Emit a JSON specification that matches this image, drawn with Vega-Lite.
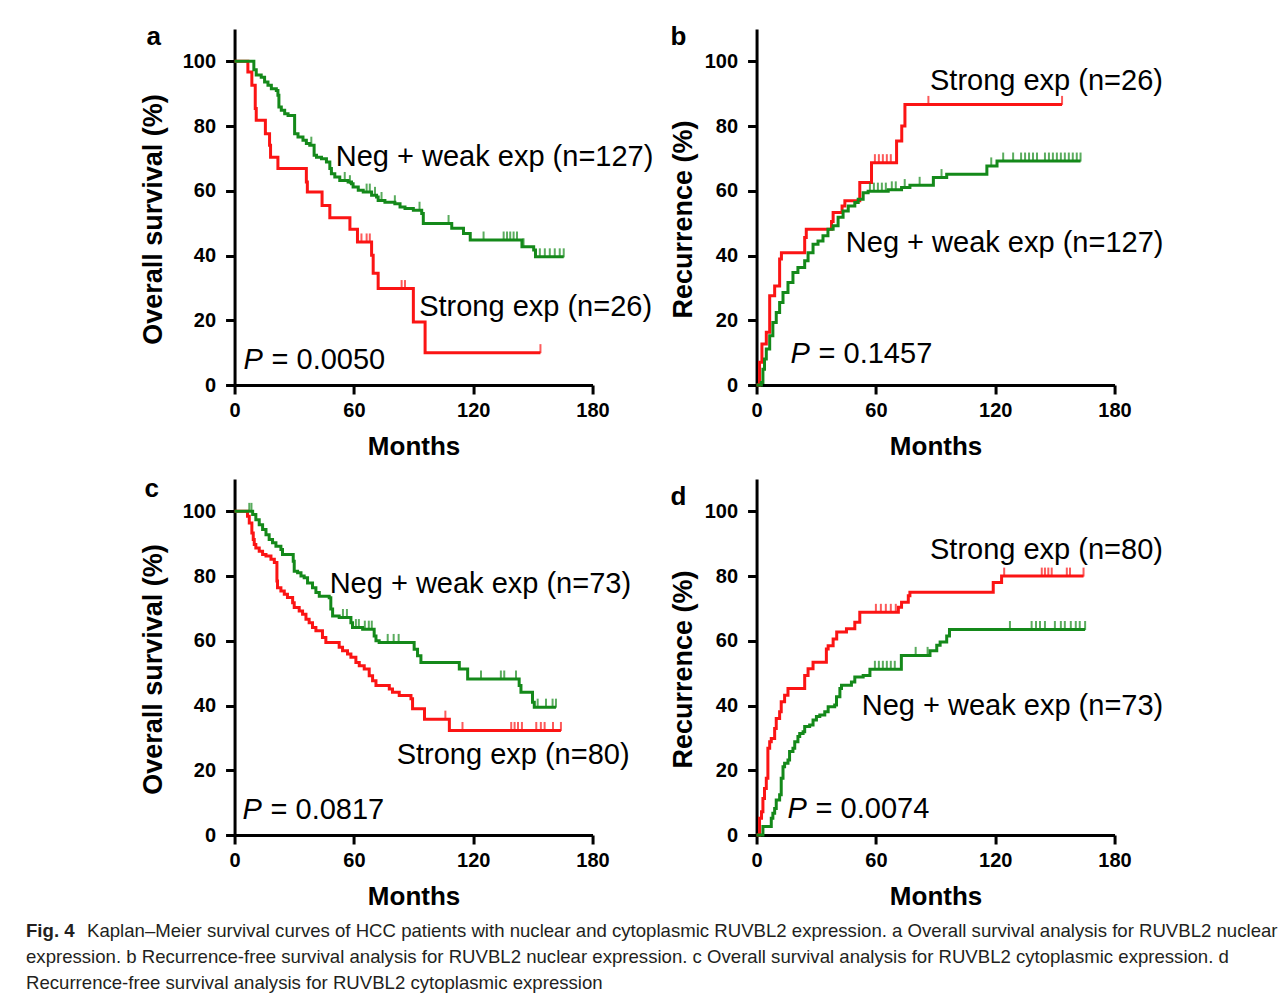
{
  "$schema": "https://vega.github.io/schema/vega-lite/v6.json",
  "padding": {"left": 26, "top": 24, "right": 0, "bottom": 0},
  "center": true,
  "spacing": 9,
  "datasets": {
    "a_curve": [
      {"group":"Strong exp","month":0,"pct":100},{"group":"Strong exp","month":6.7,"pct":96.7},{"group":"Strong exp","month":8.7,"pct":92.6},{"group":"Strong exp","month":10.4,"pct":85.4},{"group":"Strong exp","month":10.9,"pct":81.8},{"group":"Strong exp","month":15.5,"pct":77.6},{"group":"Strong exp","month":17.6,"pct":74.1},{"group":"Strong exp","month":18.1,"pct":70.4},{"group":"Strong exp","month":21.8,"pct":66.9},{"group":"Strong exp","month":36.1,"pct":62.7},{"group":"Strong exp","month":36.6,"pct":59.6},{"group":"Strong exp","month":44.0,"pct":55.5},{"group":"Strong exp","month":47.9,"pct":51.7},{"group":"Strong exp","month":58.0,"pct":48.1},{"group":"Strong exp","month":61.8,"pct":44.2},{"group":"Strong exp","month":68.9,"pct":40.1},{"group":"Strong exp","month":69.7,"pct":34.5},{"group":"Strong exp","month":72.2,"pct":29.8},{"group":"Strong exp","month":89.9,"pct":19.5},{"group":"Strong exp","month":95.8,"pct":10.0},{"group":"Strong exp","month":153.8,"pct":10.0},
      {"group":"Neg + weak exp","month":0,"pct":100},{"group":"Neg + weak exp","month":9.7,"pct":97.4},{"group":"Neg + weak exp","month":10.9,"pct":95.8},{"group":"Neg + weak exp","month":13.4,"pct":95.1},{"group":"Neg + weak exp","month":15.1,"pct":93.6},{"group":"Neg + weak exp","month":16.8,"pct":92.6},{"group":"Neg + weak exp","month":18.5,"pct":91.5},{"group":"Neg + weak exp","month":21.0,"pct":91.0},{"group":"Neg + weak exp","month":21.8,"pct":89.5},{"group":"Neg + weak exp","month":22.3,"pct":85.9},{"group":"Neg + weak exp","month":23.5,"pct":84.9},{"group":"Neg + weak exp","month":25.2,"pct":83.8},{"group":"Neg + weak exp","month":26.9,"pct":83.3},{"group":"Neg + weak exp","month":30.2,"pct":77.6},{"group":"Neg + weak exp","month":31.9,"pct":76.6},{"group":"Neg + weak exp","month":34.4,"pct":75.6},{"group":"Neg + weak exp","month":36.1,"pct":74.6},{"group":"Neg + weak exp","month":37.8,"pct":74.1},{"group":"Neg + weak exp","month":40.0,"pct":71.0},{"group":"Neg + weak exp","month":41.2,"pct":70.4},{"group":"Neg + weak exp","month":43.7,"pct":69.9},{"group":"Neg + weak exp","month":46.2,"pct":68.9},{"group":"Neg + weak exp","month":47.9,"pct":66.9},{"group":"Neg + weak exp","month":48.7,"pct":65.3},{"group":"Neg + weak exp","month":50.4,"pct":64.3},{"group":"Neg + weak exp","month":52.9,"pct":63.2},{"group":"Neg + weak exp","month":57.1,"pct":62.7},{"group":"Neg + weak exp","month":58.8,"pct":62.2},{"group":"Neg + weak exp","month":59.6,"pct":61.2},{"group":"Neg + weak exp","month":62.2,"pct":60.2},{"group":"Neg + weak exp","month":64.7,"pct":59.6},{"group":"Neg + weak exp","month":68.9,"pct":58.6},{"group":"Neg + weak exp","month":71.4,"pct":58.1},{"group":"Neg + weak exp","month":72.2,"pct":57.0},{"group":"Neg + weak exp","month":75.6,"pct":56.5},{"group":"Neg + weak exp","month":80.6,"pct":56.0},{"group":"Neg + weak exp","month":83.2,"pct":55.0},{"group":"Neg + weak exp","month":85.7,"pct":54.5},{"group":"Neg + weak exp","month":89.9,"pct":54.0},{"group":"Neg + weak exp","month":94.1,"pct":53.0},{"group":"Neg + weak exp","month":94.9,"pct":49.9},{"group":"Neg + weak exp","month":109.2,"pct":48.4},{"group":"Neg + weak exp","month":115.1,"pct":46.8},{"group":"Neg + weak exp","month":118.5,"pct":44.8},{"group":"Neg + weak exp","month":144.5,"pct":42.7},{"group":"Neg + weak exp","month":150.4,"pct":41.7},{"group":"Neg + weak exp","month":151.3,"pct":39.6},{"group":"Neg + weak exp","month":165.5,"pct":39.6}
    ],
    "a_cens": [
      {"group":"Strong exp","month":63.8,"pct":44.2},{"group":"Strong exp","month":66.4,"pct":44.2},{"group":"Strong exp","month":68.0,"pct":44.2},{"group":"Strong exp","month":84.0,"pct":29.8},{"group":"Strong exp","month":85.7,"pct":29.8},{"group":"Strong exp","month":153.8,"pct":10.0},
      {"group":"Neg + weak exp","month":38.6,"pct":74.1},{"group":"Neg + weak exp","month":55.4,"pct":63.2},{"group":"Neg + weak exp","month":58.0,"pct":62.2},{"group":"Neg + weak exp","month":66.4,"pct":59.6},{"group":"Neg + weak exp","month":68.0,"pct":59.6},{"group":"Neg + weak exp","month":70.6,"pct":58.6},{"group":"Neg + weak exp","month":73.9,"pct":57.0},{"group":"Neg + weak exp","month":80.6,"pct":56.0},{"group":"Neg + weak exp","month":93.0,"pct":54.0},{"group":"Neg + weak exp","month":107.6,"pct":49.9},{"group":"Neg + weak exp","month":125.2,"pct":44.8},{"group":"Neg + weak exp","month":135.3,"pct":44.8},{"group":"Neg + weak exp","month":137.0,"pct":44.8},{"group":"Neg + weak exp","month":138.6,"pct":44.8},{"group":"Neg + weak exp","month":140.3,"pct":44.8},{"group":"Neg + weak exp","month":142.0,"pct":44.8},{"group":"Neg + weak exp","month":145.3,"pct":42.7},{"group":"Neg + weak exp","month":153.5,"pct":39.6},{"group":"Neg + weak exp","month":156.0,"pct":39.6},{"group":"Neg + weak exp","month":158.5,"pct":39.6},{"group":"Neg + weak exp","month":161.0,"pct":39.6},{"group":"Neg + weak exp","month":163.5,"pct":39.6},{"group":"Neg + weak exp","month":165.5,"pct":39.6}
    ],
    "b_curve": [
      {"group":"Strong exp","month":0,"pct":0},{"group":"Strong exp","month":1.5,"pct":7.0},{"group":"Strong exp","month":2.7,"pct":12.7},{"group":"Strong exp","month":4.9,"pct":16.3},{"group":"Strong exp","month":6.6,"pct":27.6},{"group":"Strong exp","month":9.1,"pct":30.6},{"group":"Strong exp","month":11.6,"pct":38.9},{"group":"Strong exp","month":12.5,"pct":40.9},{"group":"Strong exp","month":24.2,"pct":45.6},{"group":"Strong exp","month":25.0,"pct":48.1},{"group":"Strong exp","month":37.7,"pct":50.5},{"group":"Strong exp","month":38.5,"pct":53.3},{"group":"Strong exp","month":43.0,"pct":55.3},{"group":"Strong exp","month":44.4,"pct":56.9},{"group":"Strong exp","month":51.9,"pct":62.6},{"group":"Strong exp","month":57.8,"pct":68.7},{"group":"Strong exp","month":70.4,"pct":75.4},{"group":"Strong exp","month":73.0,"pct":80.0},{"group":"Strong exp","month":74.6,"pct":86.7},{"group":"Strong exp","month":153.6,"pct":86.7},
      {"group":"Neg + weak exp","month":0,"pct":0},{"group":"Neg + weak exp","month":2.4,"pct":0.8},{"group":"Neg + weak exp","month":3.2,"pct":4.9},{"group":"Neg + weak exp","month":4.0,"pct":8.0},{"group":"Neg + weak exp","month":4.9,"pct":11.1},{"group":"Neg + weak exp","month":6.6,"pct":15.2},{"group":"Neg + weak exp","month":8.2,"pct":19.3},{"group":"Neg + weak exp","month":9.9,"pct":22.4},{"group":"Neg + weak exp","month":11.6,"pct":25.5},{"group":"Neg + weak exp","month":13.3,"pct":28.6},{"group":"Neg + weak exp","month":15.8,"pct":31.7},{"group":"Neg + weak exp","month":18.3,"pct":34.8},{"group":"Neg + weak exp","month":20.8,"pct":36.3},{"group":"Neg + weak exp","month":24.2,"pct":38.4},{"group":"Neg + weak exp","month":25.9,"pct":40.9},{"group":"Neg + weak exp","month":28.4,"pct":43.5},{"group":"Neg + weak exp","month":30.9,"pct":44.5},{"group":"Neg + weak exp","month":33.4,"pct":46.1},{"group":"Neg + weak exp","month":35.9,"pct":48.1},{"group":"Neg + weak exp","month":38.5,"pct":49.2},{"group":"Neg + weak exp","month":41.0,"pct":51.8},{"group":"Neg + weak exp","month":43.5,"pct":53.8},{"group":"Neg + weak exp","month":46.1,"pct":55.3},{"group":"Neg + weak exp","month":49.4,"pct":56.4},{"group":"Neg + weak exp","month":51.1,"pct":57.4},{"group":"Neg + weak exp","month":53.6,"pct":59.4},{"group":"Neg + weak exp","month":56.1,"pct":59.9},{"group":"Neg + weak exp","month":66.2,"pct":60.3},{"group":"Neg + weak exp","month":72.9,"pct":61.0},{"group":"Neg + weak exp","month":77.1,"pct":61.7},{"group":"Neg + weak exp","month":88.9,"pct":64.1},{"group":"Neg + weak exp","month":95.6,"pct":65.1},{"group":"Neg + weak exp","month":115.8,"pct":67.7},{"group":"Neg + weak exp","month":120.9,"pct":69.2},{"group":"Neg + weak exp","month":162.9,"pct":69.2}
    ],
    "b_cens": [
      {"group":"Strong exp","month":59.5,"pct":68.7},{"group":"Strong exp","month":61.5,"pct":68.7},{"group":"Strong exp","month":63.5,"pct":68.7},{"group":"Strong exp","month":65.5,"pct":68.7},{"group":"Strong exp","month":67.5,"pct":68.7},{"group":"Strong exp","month":86.4,"pct":86.7},{"group":"Strong exp","month":153.6,"pct":86.7},
      {"group":"Neg + weak exp","month":57,"pct":59.9},{"group":"Neg + weak exp","month":59,"pct":59.9},{"group":"Neg + weak exp","month":61,"pct":59.9},{"group":"Neg + weak exp","month":63,"pct":59.9},{"group":"Neg + weak exp","month":65,"pct":59.9},{"group":"Neg + weak exp","month":68,"pct":60.3},{"group":"Neg + weak exp","month":70,"pct":60.3},{"group":"Neg + weak exp","month":74.5,"pct":61.0},{"group":"Neg + weak exp","month":82,"pct":61.7},{"group":"Neg + weak exp","month":93,"pct":64.1},{"group":"Neg + weak exp","month":118,"pct":67.7},{"group":"Neg + weak exp","month":124,"pct":69.2},{"group":"Neg + weak exp","month":129,"pct":69.2},{"group":"Neg + weak exp","month":133,"pct":69.2},{"group":"Neg + weak exp","month":135,"pct":69.2},{"group":"Neg + weak exp","month":137,"pct":69.2},{"group":"Neg + weak exp","month":139,"pct":69.2},{"group":"Neg + weak exp","month":141,"pct":69.2},{"group":"Neg + weak exp","month":145,"pct":69.2},{"group":"Neg + weak exp","month":147,"pct":69.2},{"group":"Neg + weak exp","month":149,"pct":69.2},{"group":"Neg + weak exp","month":151,"pct":69.2},{"group":"Neg + weak exp","month":153,"pct":69.2},{"group":"Neg + weak exp","month":155,"pct":69.2},{"group":"Neg + weak exp","month":157,"pct":69.2},{"group":"Neg + weak exp","month":159,"pct":69.2},{"group":"Neg + weak exp","month":161,"pct":69.2},{"group":"Neg + weak exp","month":162.9,"pct":69.2}
    ],
    "c_curve": [
      {"group":"Strong exp","month":0,"pct":100},{"group":"Strong exp","month":6.5,"pct":98.5},{"group":"Strong exp","month":7.4,"pct":96.4},{"group":"Strong exp","month":8.7,"pct":93.3},{"group":"Strong exp","month":9.4,"pct":91.3},{"group":"Strong exp","month":9.9,"pct":89.8},{"group":"Strong exp","month":10.7,"pct":88.7},{"group":"Strong exp","month":12.4,"pct":87.7},{"group":"Strong exp","month":14.1,"pct":86.7},{"group":"Strong exp","month":15.8,"pct":86.2},{"group":"Strong exp","month":18.3,"pct":85.2},{"group":"Strong exp","month":20.0,"pct":84.2},{"group":"Strong exp","month":21.3,"pct":78.5},{"group":"Strong exp","month":21.6,"pct":76.4},{"group":"Strong exp","month":23.3,"pct":75.4},{"group":"Strong exp","month":25.0,"pct":74.4},{"group":"Strong exp","month":26.6,"pct":73.4},{"group":"Strong exp","month":29.2,"pct":71.8},{"group":"Strong exp","month":30.0,"pct":70.3},{"group":"Strong exp","month":32.5,"pct":69.2},{"group":"Strong exp","month":34.2,"pct":68.2},{"group":"Strong exp","month":35.9,"pct":66.7},{"group":"Strong exp","month":37.5,"pct":65.6},{"group":"Strong exp","month":39.2,"pct":64.1},{"group":"Strong exp","month":40.9,"pct":63.1},{"group":"Strong exp","month":44.2,"pct":61.0},{"group":"Strong exp","month":45.9,"pct":59.5},{"group":"Strong exp","month":52.6,"pct":58.0},{"group":"Strong exp","month":54.3,"pct":56.9},{"group":"Strong exp","month":56.8,"pct":55.9},{"group":"Strong exp","month":58.5,"pct":54.9},{"group":"Strong exp","month":61.0,"pct":53.3},{"group":"Strong exp","month":62.7,"pct":52.3},{"group":"Strong exp","month":65.2,"pct":51.3},{"group":"Strong exp","month":67.7,"pct":49.2},{"group":"Strong exp","month":69.4,"pct":47.7},{"group":"Strong exp","month":71.1,"pct":46.2},{"group":"Strong exp","month":77.8,"pct":45.1},{"group":"Strong exp","month":79.4,"pct":44.1},{"group":"Strong exp","month":82.8,"pct":43.1},{"group":"Strong exp","month":88.7,"pct":42.1},{"group":"Strong exp","month":89.5,"pct":39.0},{"group":"Strong exp","month":95.5,"pct":35.8},{"group":"Strong exp","month":108.0,"pct":32.3},{"group":"Strong exp","month":164.1,"pct":32.3},
      {"group":"Neg + weak exp","month":0,"pct":100},{"group":"Neg + weak exp","month":9.1,"pct":99.0},{"group":"Neg + weak exp","month":10.7,"pct":97.4},{"group":"Neg + weak exp","month":12.4,"pct":95.9},{"group":"Neg + weak exp","month":14.1,"pct":94.4},{"group":"Neg + weak exp","month":15.8,"pct":92.8},{"group":"Neg + weak exp","month":17.4,"pct":91.3},{"group":"Neg + weak exp","month":19.1,"pct":90.3},{"group":"Neg + weak exp","month":20.8,"pct":89.2},{"group":"Neg + weak exp","month":23.3,"pct":88.2},{"group":"Neg + weak exp","month":24.1,"pct":86.7},{"group":"Neg + weak exp","month":29.5,"pct":84.6},{"group":"Neg + weak exp","month":30.0,"pct":81.5},{"group":"Neg + weak exp","month":31.7,"pct":81.0},{"group":"Neg + weak exp","month":33.4,"pct":80.0},{"group":"Neg + weak exp","month":35.0,"pct":79.5},{"group":"Neg + weak exp","month":36.7,"pct":77.9},{"group":"Neg + weak exp","month":39.2,"pct":76.4},{"group":"Neg + weak exp","month":40.9,"pct":74.9},{"group":"Neg + weak exp","month":42.6,"pct":73.8},{"group":"Neg + weak exp","month":47.6,"pct":73.3},{"group":"Neg + weak exp","month":48.4,"pct":69.8},{"group":"Neg + weak exp","month":49.3,"pct":67.7},{"group":"Neg + weak exp","month":52.6,"pct":67.2},{"group":"Neg + weak exp","month":58.5,"pct":65.6},{"group":"Neg + weak exp","month":59.3,"pct":64.1},{"group":"Neg + weak exp","month":64.4,"pct":63.6},{"group":"Neg + weak exp","month":70.2,"pct":61.5},{"group":"Neg + weak exp","month":71.1,"pct":60.0},{"group":"Neg + weak exp","month":72.7,"pct":59.5},{"group":"Neg + weak exp","month":90.3,"pct":57.4},{"group":"Neg + weak exp","month":92.0,"pct":55.4},{"group":"Neg + weak exp","month":93.7,"pct":53.3},{"group":"Neg + weak exp","month":113.0,"pct":51.3},{"group":"Neg + weak exp","month":117.2,"pct":48.2},{"group":"Neg + weak exp","month":143.1,"pct":46.2},{"group":"Neg + weak exp","month":144.0,"pct":44.1},{"group":"Neg + weak exp","month":149.8,"pct":41.0},{"group":"Neg + weak exp","month":150.7,"pct":39.5},{"group":"Neg + weak exp","month":161.6,"pct":39.5}
    ],
    "c_cens": [
      {"group":"Strong exp","month":106.0,"pct":35.8},{"group":"Strong exp","month":114.6,"pct":32.3},{"group":"Strong exp","month":139.1,"pct":32.3},{"group":"Strong exp","month":140.8,"pct":32.3},{"group":"Strong exp","month":142.5,"pct":32.3},{"group":"Strong exp","month":144.5,"pct":32.3},{"group":"Strong exp","month":151.7,"pct":32.3},{"group":"Strong exp","month":154.0,"pct":32.3},{"group":"Strong exp","month":155.9,"pct":32.3},{"group":"Strong exp","month":160.1,"pct":32.3},{"group":"Strong exp","month":164.1,"pct":32.3},
      {"group":"Neg + weak exp","month":7.4,"pct":100},{"group":"Neg + weak exp","month":8.5,"pct":100},{"group":"Neg + weak exp","month":54.5,"pct":67.2},{"group":"Neg + weak exp","month":56.5,"pct":67.2},{"group":"Neg + weak exp","month":61.0,"pct":64.1},{"group":"Neg + weak exp","month":62.5,"pct":64.1},{"group":"Neg + weak exp","month":65.5,"pct":63.6},{"group":"Neg + weak exp","month":67.5,"pct":63.6},{"group":"Neg + weak exp","month":69.0,"pct":63.6},{"group":"Neg + weak exp","month":77.0,"pct":59.5},{"group":"Neg + weak exp","month":80.0,"pct":59.5},{"group":"Neg + weak exp","month":82.5,"pct":59.5},{"group":"Neg + weak exp","month":123.9,"pct":48.2},{"group":"Neg + weak exp","month":133.9,"pct":48.2},{"group":"Neg + weak exp","month":135.6,"pct":48.2},{"group":"Neg + weak exp","month":141.5,"pct":48.2},{"group":"Neg + weak exp","month":152.4,"pct":39.5},{"group":"Neg + weak exp","month":156.6,"pct":39.5},{"group":"Neg + weak exp","month":159.9,"pct":39.5},{"group":"Neg + weak exp","month":161.6,"pct":39.5}
    ],
    "d_curve": [
      {"group":"Strong exp","month":0,"pct":0},{"group":"Strong exp","month":1.5,"pct":5.2},{"group":"Strong exp","month":2.5,"pct":7.2},{"group":"Strong exp","month":3.2,"pct":11.3},{"group":"Strong exp","month":4.0,"pct":14.4},{"group":"Strong exp","month":4.9,"pct":17.5},{"group":"Strong exp","month":5.7,"pct":26.8},{"group":"Strong exp","month":6.6,"pct":28.8},{"group":"Strong exp","month":7.4,"pct":29.8},{"group":"Strong exp","month":9.1,"pct":32.9},{"group":"Strong exp","month":9.9,"pct":36.0},{"group":"Strong exp","month":11.6,"pct":38.1},{"group":"Strong exp","month":12.4,"pct":41.2},{"group":"Strong exp","month":14.1,"pct":43.2},{"group":"Strong exp","month":15.8,"pct":45.3},{"group":"Strong exp","month":24.2,"pct":49.3},{"group":"Strong exp","month":25.9,"pct":51.4},{"group":"Strong exp","month":28.4,"pct":53.4},{"group":"Strong exp","month":35.1,"pct":57.5},{"group":"Strong exp","month":36.0,"pct":58.5},{"group":"Strong exp","month":38.5,"pct":60.6},{"group":"Strong exp","month":40.3,"pct":62.7},{"group":"Strong exp","month":45.2,"pct":63.7},{"group":"Strong exp","month":49.4,"pct":65.7},{"group":"Strong exp","month":51.9,"pct":68.8},{"group":"Strong exp","month":71.3,"pct":70.4},{"group":"Strong exp","month":72.9,"pct":71.9},{"group":"Strong exp","month":76.3,"pct":73.9},{"group":"Strong exp","month":77.1,"pct":75.0},{"group":"Strong exp","month":119.0,"pct":78.0},{"group":"Strong exp","month":123.2,"pct":80.0},{"group":"Strong exp","month":164.4,"pct":80.0},
      {"group":"Neg + weak exp","month":0,"pct":0},{"group":"Neg + weak exp","month":3.2,"pct":2.6},{"group":"Neg + weak exp","month":7.4,"pct":5.2},{"group":"Neg + weak exp","month":8.2,"pct":6.7},{"group":"Neg + weak exp","month":9.1,"pct":8.2},{"group":"Neg + weak exp","month":9.9,"pct":10.8},{"group":"Neg + weak exp","month":11.6,"pct":12.4},{"group":"Neg + weak exp","month":12.4,"pct":17.5},{"group":"Neg + weak exp","month":13.3,"pct":21.1},{"group":"Neg + weak exp","month":14.1,"pct":22.2},{"group":"Neg + weak exp","month":15.8,"pct":23.2},{"group":"Neg + weak exp","month":16.6,"pct":25.8},{"group":"Neg + weak exp","month":18.3,"pct":26.8},{"group":"Neg + weak exp","month":19.2,"pct":28.8},{"group":"Neg + weak exp","month":20.8,"pct":30.4},{"group":"Neg + weak exp","month":21.7,"pct":31.4},{"group":"Neg + weak exp","month":23.4,"pct":31.9},{"group":"Neg + weak exp","month":24.2,"pct":33.5},{"group":"Neg + weak exp","month":26.7,"pct":34.0},{"group":"Neg + weak exp","month":28.4,"pct":35.5},{"group":"Neg + weak exp","month":30.1,"pct":36.6},{"group":"Neg + weak exp","month":31.8,"pct":37.1},{"group":"Neg + weak exp","month":34.3,"pct":38.1},{"group":"Neg + weak exp","month":36.0,"pct":39.6},{"group":"Neg + weak exp","month":39.3,"pct":40.2},{"group":"Neg + weak exp","month":40.2,"pct":42.7},{"group":"Neg + weak exp","month":41.9,"pct":45.3},{"group":"Neg + weak exp","month":42.7,"pct":46.3},{"group":"Neg + weak exp","month":47.7,"pct":47.3},{"group":"Neg + weak exp","month":49.4,"pct":48.8},{"group":"Neg + weak exp","month":53.6,"pct":49.3},{"group":"Neg + weak exp","month":57.0,"pct":51.2},{"group":"Neg + weak exp","month":72.8,"pct":55.5},{"group":"Neg + weak exp","month":87.2,"pct":56.9},{"group":"Neg + weak exp","month":90.6,"pct":58.6},{"group":"Neg + weak exp","month":92.3,"pct":59.6},{"group":"Neg + weak exp","month":95.6,"pct":61.5},{"group":"Neg + weak exp","month":97.0,"pct":63.5},{"group":"Neg + weak exp","month":165.2,"pct":63.5}
    ],
    "d_cens": [
      {"group":"Strong exp","month":60,"pct":68.8},{"group":"Strong exp","month":62.5,"pct":68.8},{"group":"Strong exp","month":65,"pct":68.8},{"group":"Strong exp","month":67.5,"pct":68.8},{"group":"Strong exp","month":70,"pct":68.8},{"group":"Strong exp","month":124.5,"pct":80},{"group":"Strong exp","month":143.4,"pct":80},{"group":"Strong exp","month":145,"pct":80},{"group":"Strong exp","month":146.7,"pct":80},{"group":"Strong exp","month":148.4,"pct":80},{"group":"Strong exp","month":156,"pct":80},{"group":"Strong exp","month":157.6,"pct":80},{"group":"Strong exp","month":164.4,"pct":80},
      {"group":"Neg + weak exp","month":59.5,"pct":51.2},{"group":"Neg + weak exp","month":61.5,"pct":51.2},{"group":"Neg + weak exp","month":63.5,"pct":51.2},{"group":"Neg + weak exp","month":65.5,"pct":51.2},{"group":"Neg + weak exp","month":67.5,"pct":51.2},{"group":"Neg + weak exp","month":69.5,"pct":51.2},{"group":"Neg + weak exp","month":80,"pct":55.5},{"group":"Neg + weak exp","month":86,"pct":55.5},{"group":"Neg + weak exp","month":127.4,"pct":63.5},{"group":"Neg + weak exp","month":138.3,"pct":63.5},{"group":"Neg + weak exp","month":140.5,"pct":63.5},{"group":"Neg + weak exp","month":142.5,"pct":63.5},{"group":"Neg + weak exp","month":145,"pct":63.5},{"group":"Neg + weak exp","month":150,"pct":63.5},{"group":"Neg + weak exp","month":153,"pct":63.5},{"group":"Neg + weak exp","month":155,"pct":63.5},{"group":"Neg + weak exp","month":158,"pct":63.5},{"group":"Neg + weak exp","month":160.5,"pct":63.5},{"group":"Neg + weak exp","month":162.5,"pct":63.5},{"group":"Neg + weak exp","month":165.2,"pct":63.5}
    ],
    "caption": [
      {"line":1,"part":"figure label","text":"Fig. 4"},
      {"line":1,"part":"lead","text":"Kaplan–Meier survival curves of HCC patients with nuclear and cytoplasmic RUVBL2 expression. a Overall survival analysis for RUVBL2 nuclear"},
      {"line":2,"part":"body","text":"expression. b Recurrence-free survival analysis for RUVBL2 nuclear expression. c Overall survival analysis for RUVBL2 cytoplasmic expression. d"},
      {"line":3,"part":"body","text":"Recurrence-free survival analysis for RUVBL2 cytoplasmic expression"}
    ]
  },
  "vconcat": [
    {
      "concat": [
        {
          "width": 358, "height": 356,
          "title": {"text": "a", "anchor": "start", "frame": "group", "dx": -88, "offset": -21, "fontSize": 26, "fontWeight": "bold", "color": "black"},
          "layer": [
            {"data": {"name": "a_curve"}, "mark": {"type": "line", "interpolate": "step-after", "strokeWidth": 3},
             "encoding": {
               "x": {"field": "month", "type": "quantitative", "scale": {"domain": [0, 180], "nice": false}, "axis": {"values": [0, 60, 120, 180], "title": "Months"}},
               "y": {"field": "pct", "type": "quantitative", "scale": {"domain": [0, 110], "nice": false}, "axis": {"values": [0, 20, 40, 60, 80, 100], "title": "Overall survival (%)", "titlePadding": 15}},
               "color": {"field": "group", "type": "nominal", "scale": {"domain": ["Neg + weak exp", "Strong exp"], "range": ["#14891a", "#fb1414"]}, "legend": null}}},
            {"data": {"name": "a_cens"}, "mark": {"type": "tick", "orient": "vertical", "size": 9, "thickness": 2, "yOffset": -4},
             "encoding": {"x": {"field": "month", "type": "quantitative"}, "y": {"field": "pct", "type": "quantitative"}, "color": {"field": "group", "type": "nominal"}}},
            {"data": {"values": [{}]}, "mark": {"type": "text", "align": "left", "baseline": "middle", "fontSize": 29, "color": "black"},
             "encoding": {"x": {"datum": 50.9}, "y": {"datum": 70.4}, "text": {"value": "Neg + weak exp (n=127)"}}},
            {"data": {"values": [{}]}, "mark": {"type": "text", "align": "left", "baseline": "middle", "fontSize": 29, "color": "black"},
             "encoding": {"x": {"datum": 92.8}, "y": {"datum": 24.1}, "text": {"value": "Strong exp (n=26)"}}},
            {"data": {"values": [{}]}, "mark": {"type": "text", "align": "left", "baseline": "middle", "fontSize": 29, "fontStyle": "italic", "color": "black"},
             "encoding": {"x": {"datum": 4.5}, "y": {"datum": 7.7}, "text": {"value": "P"}}},
            {"data": {"values": [{}]}, "mark": {"type": "text", "align": "left", "baseline": "middle", "fontSize": 29, "dx": 28, "color": "black"},
             "encoding": {"x": {"datum": 4.5}, "y": {"datum": 7.7}, "text": {"value": "= 0.0050"}}}
          ]
        },
        {
          "width": 358, "height": 356,
          "title": {"text": "b", "anchor": "start", "frame": "group", "dx": -86, "offset": -21, "fontSize": 26, "fontWeight": "bold", "color": "black"},
          "layer": [
            {"data": {"name": "b_curve"}, "mark": {"type": "line", "interpolate": "step-after", "strokeWidth": 3},
             "encoding": {
               "x": {"field": "month", "type": "quantitative", "scale": {"domain": [0, 180], "nice": false}, "axis": {"values": [0, 60, 120, 180], "title": "Months"}},
               "y": {"field": "pct", "type": "quantitative", "scale": {"domain": [0, 110], "nice": false}, "axis": {"values": [0, 20, 40, 60, 80, 100], "title": "Recurrence (%)", "titlePadding": 7}},
               "color": {"field": "group", "type": "nominal", "scale": {"domain": ["Neg + weak exp", "Strong exp"], "range": ["#14891a", "#fb1414"]}, "legend": null}}},
            {"data": {"name": "b_cens"}, "mark": {"type": "tick", "orient": "vertical", "size": 9, "thickness": 2, "yOffset": -4},
             "encoding": {"x": {"field": "month", "type": "quantitative"}, "y": {"field": "pct", "type": "quantitative"}, "color": {"field": "group", "type": "nominal"}}},
            {"data": {"values": [{}]}, "mark": {"type": "text", "align": "left", "baseline": "middle", "fontSize": 29, "color": "black"},
             "encoding": {"x": {"datum": 87.2}, "y": {"datum": 93.8}, "text": {"value": "Strong exp (n=26)"}}},
            {"data": {"values": [{}]}, "mark": {"type": "text", "align": "left", "baseline": "middle", "fontSize": 29, "color": "black"},
             "encoding": {"x": {"datum": 44.9}, "y": {"datum": 43.8}, "text": {"value": "Neg + weak exp (n=127)"}}},
            {"data": {"values": [{}]}, "mark": {"type": "text", "align": "left", "baseline": "middle", "fontSize": 29, "fontStyle": "italic", "color": "black"},
             "encoding": {"x": {"datum": 17.1}, "y": {"datum": 9.6}, "text": {"value": "P"}}},
            {"data": {"values": [{}]}, "mark": {"type": "text", "align": "left", "baseline": "middle", "fontSize": 29, "dx": 28, "color": "black"},
             "encoding": {"x": {"datum": 17.1}, "y": {"datum": 9.6}, "text": {"value": "= 0.1457"}}}
          ]
        },
        {
          "width": 358, "height": 356,
          "title": {"text": "c", "anchor": "start", "frame": "group", "dx": -90, "offset": -23, "fontSize": 26, "fontWeight": "bold", "color": "black"},
          "layer": [
            {"data": {"name": "c_curve"}, "mark": {"type": "line", "interpolate": "step-after", "strokeWidth": 3},
             "encoding": {
               "x": {"field": "month", "type": "quantitative", "scale": {"domain": [0, 180], "nice": false}, "axis": {"values": [0, 60, 120, 180], "title": "Months"}},
               "y": {"field": "pct", "type": "quantitative", "scale": {"domain": [0, 110], "nice": false}, "axis": {"values": [0, 20, 40, 60, 80, 100], "title": "Overall survival (%)", "titlePadding": 15}},
               "color": {"field": "group", "type": "nominal", "scale": {"domain": ["Neg + weak exp", "Strong exp"], "range": ["#14891a", "#fb1414"]}, "legend": null}}},
            {"data": {"name": "c_cens"}, "mark": {"type": "tick", "orient": "vertical", "size": 9, "thickness": 2, "yOffset": -4},
             "encoding": {"x": {"field": "month", "type": "quantitative"}, "y": {"field": "pct", "type": "quantitative"}, "color": {"field": "group", "type": "nominal"}}},
            {"data": {"values": [{}]}, "mark": {"type": "text", "align": "left", "baseline": "middle", "fontSize": 29, "color": "black"},
             "encoding": {"x": {"datum": 47.8}, "y": {"datum": 77.5}, "text": {"value": "Neg + weak exp (n=73)"}}},
            {"data": {"values": [{}]}, "mark": {"type": "text", "align": "left", "baseline": "middle", "fontSize": 29, "color": "black"},
             "encoding": {"x": {"datum": 81.5}, "y": {"datum": 24.6}, "text": {"value": "Strong exp (n=80)"}}},
            {"data": {"values": [{}]}, "mark": {"type": "text", "align": "left", "baseline": "middle", "fontSize": 29, "fontStyle": "italic", "color": "black"},
             "encoding": {"x": {"datum": 4.0}, "y": {"datum": 7.7}, "text": {"value": "P"}}},
            {"data": {"values": [{}]}, "mark": {"type": "text", "align": "left", "baseline": "middle", "fontSize": 29, "dx": 28, "color": "black"},
             "encoding": {"x": {"datum": 4.0}, "y": {"datum": 7.7}, "text": {"value": "= 0.0817"}}}
          ]
        },
        {
          "width": 358, "height": 356,
          "title": {"text": "d", "anchor": "start", "frame": "group", "dx": -86, "offset": -31, "fontSize": 26, "fontWeight": "bold", "color": "black"},
          "layer": [
            {"data": {"name": "d_curve"}, "mark": {"type": "line", "interpolate": "step-after", "strokeWidth": 3},
             "encoding": {
               "x": {"field": "month", "type": "quantitative", "scale": {"domain": [0, 180], "nice": false}, "axis": {"values": [0, 60, 120, 180], "title": "Months"}},
               "y": {"field": "pct", "type": "quantitative", "scale": {"domain": [0, 110], "nice": false}, "axis": {"values": [0, 20, 40, 60, 80, 100], "title": "Recurrence (%)", "titlePadding": 7}},
               "color": {"field": "group", "type": "nominal", "scale": {"domain": ["Neg + weak exp", "Strong exp"], "range": ["#14891a", "#fb1414"]}, "legend": null}}},
            {"data": {"name": "d_cens"}, "mark": {"type": "tick", "orient": "vertical", "size": 9, "thickness": 2, "yOffset": -4},
             "encoding": {"x": {"field": "month", "type": "quantitative"}, "y": {"field": "pct", "type": "quantitative"}, "color": {"field": "group", "type": "nominal"}}},
            {"data": {"values": [{}]}, "mark": {"type": "text", "align": "left", "baseline": "middle", "fontSize": 29, "color": "black"},
             "encoding": {"x": {"datum": 87.2}, "y": {"datum": 88.0}, "text": {"value": "Strong exp (n=80)"}}},
            {"data": {"values": [{}]}, "mark": {"type": "text", "align": "left", "baseline": "middle", "fontSize": 29, "color": "black"},
             "encoding": {"x": {"datum": 52.9}, "y": {"datum": 40.0}, "text": {"value": "Neg + weak exp (n=73)"}}},
            {"data": {"values": [{}]}, "mark": {"type": "text", "align": "left", "baseline": "middle", "fontSize": 29, "fontStyle": "italic", "color": "black"},
             "encoding": {"x": {"datum": 15.6}, "y": {"datum": 8.0}, "text": {"value": "P"}}},
            {"data": {"values": [{}]}, "mark": {"type": "text", "align": "left", "baseline": "middle", "fontSize": 29, "dx": 28, "color": "black"},
             "encoding": {"x": {"datum": 15.6}, "y": {"datum": 8.0}, "text": {"value": "= 0.0074"}}}
          ]
        }
      ],
      "columns": 2,
      "spacing": {"row": 94, "column": 164},
      "bounds": "flush"
    },
    {
      "width": 1346, "height": 78,
      "data": {"name": "caption"},
      "encoding": {
        "y": {"field": "line", "type": "quantitative", "scale": {"domain": [0.5, 3.5], "reverse": true}, "axis": null},
        "x": {"value": 0},
        "text": {"field": "text", "type": "nominal"}
      },
      "layer": [
        {"transform": [{"filter": "datum.part == 'figure label'"}], "mark": {"type": "text", "align": "left", "baseline": "middle", "fontSize": 18.6, "fontWeight": "bold", "font": "Liberation Sans", "color": "#231f20"}},
        {"transform": [{"filter": "datum.part == 'lead'"}], "mark": {"type": "text", "align": "left", "baseline": "middle", "dx": 61, "fontSize": 18.6, "font": "Liberation Sans", "color": "#231f20"}},
        {"transform": [{"filter": "datum.part == 'body'"}], "mark": {"type": "text", "align": "left", "baseline": "middle", "fontSize": 18.6, "font": "Liberation Sans", "color": "#231f20"}}
      ]
    }
  ],
  "config": {
    "view": {"stroke": null},
    "font": "Liberation Sans",
    "axis": {"domainColor": "black", "domainWidth": 3, "tickColor": "black", "tickWidth": 3, "tickSize": 9, "labelFontSize": 20, "labelFontWeight": "bold", "labelColor": "black", "labelFlush": false, "titleFontSize": 26, "titleFontWeight": "bold", "titleColor": "black", "grid": false},
    "axisY": {"labelPadding": 10, "titleFontSize": 27, "titleY": 190},
    "axisX": {"labelPadding": 6, "titlePadding": 13}
  }
}
